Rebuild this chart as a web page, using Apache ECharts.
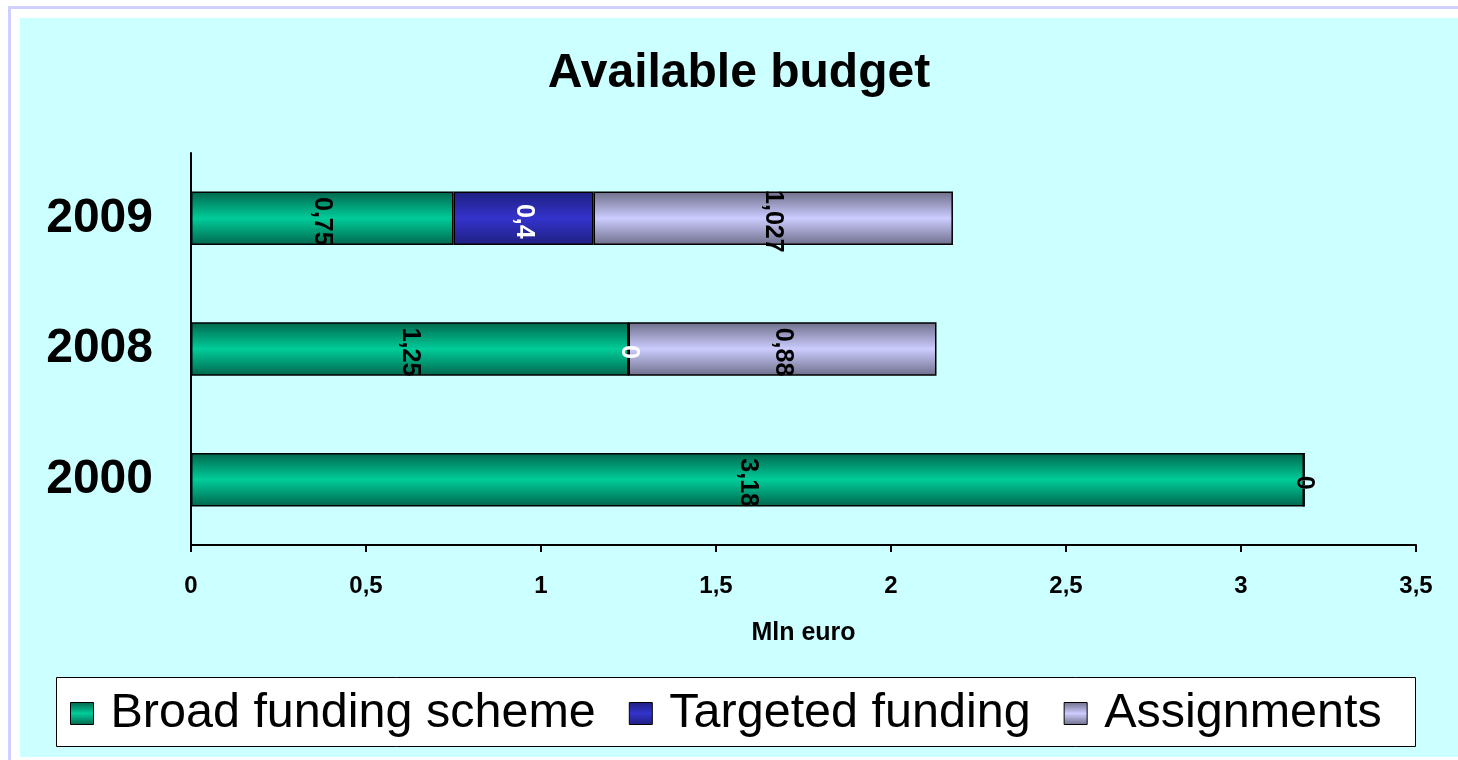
<!DOCTYPE html>
<html><head><meta charset="utf-8">
<script src="https://cdn.jsdelivr.net/npm/echarts@6/dist/echarts.min.js"></script>
<style>html,body{margin:0;padding:0;background:#fff}#c{width:1458px;height:760px}</style>
</head><body><div id="c"></div>
<script>
const years = ['2000', '2008', '2009'];
const seriesNames = ['Broad funding scheme', 'Targeted funding', 'Assignments'];
const broadFunding = [3.18, 1.25, 0.75];
const targetedFunding = [0, 0, 0.4];
const assignments = [0, 0.88, 1.027];
const xTicks = ['0', '0,5', '1', '1,5', '2', '2,5', '3', '3,5'];

const FONT = "'Liberation Sans', Arial, sans-serif";
function grad(dark, light) {
  return new echarts.graphic.LinearGradient(0, 0, 0, 1, [
    {offset: 0, color: dark}, {offset: 0.5, color: light}, {offset: 1, color: dark}
  ]);
}
const fills = [grad('#00664d', '#00cc99'), grad('#1f1f80', '#3333cc'), grad('#6e6e8a', '#ccccff')];
const labelColors = ['#000', '#fff', '#000'];
const datas = [broadFunding, targetedFunding, assignments];
const fmt = v => String(v).replace('.', ',');

const chart = echarts.init(document.getElementById('c'));
chart.setOption({
  animation: false,
  textStyle: {fontFamily: FONT},
  graphic: [
    {type: 'rect', z: -10, shape: {x: 9.5, y: 7.5, width: 1500, height: 800}, style: {fill: '#fff', stroke: '#d0d0ff', lineWidth: 3}},
    {type: 'rect', z: -9, shape: {x: 20, y: 18, width: 1460, height: 739}, style: {fill: '#ccffff'}},
    {type: 'rect', z: -8, shape: {x: 56.5, y: 677.5, width: 1359, height: 69}, style: {fill: '#fff', stroke: '#000', lineWidth: 1}},
    {type: 'text', x: 739, y: 74, style: {text: 'Available budget', font: "bold 48px " + FONT, fill: '#000', textAlign: 'center', textVerticalAlign: 'middle'}}
  ],
  legend: {
    data: seriesNames,
    left: 65, top: 684,
    itemWidth: 23, itemHeight: 22, itemGap: 33,
    icon: 'rect',
    textStyle: {fontSize: 48.5, color: '#000', fontFamily: FONT, padding: [0, 0, 0, 12]},
    itemStyle: {borderColor: '#000', borderWidth: 1}
  },
  grid: {left: 191, right: 42, top: 153, bottom: 215},
  xAxis: {
    type: 'value', min: 0, max: 3.5, interval: 0.5,
    name: 'Mln euro', nameLocation: 'middle', nameGap: 76,
    nameTextStyle: {fontSize: 25, fontWeight: 'bold', color: '#000', fontFamily: FONT, verticalAlign: 'top'},
    axisLine: {show: true, lineStyle: {color: '#000', width: 2}},
    axisTick: {show: true, length: 7, lineStyle: {color: '#000', width: 2}},
    splitLine: {show: false},
    axisLabel: {fontSize: 24, fontWeight: 'bold', color: '#000', margin: 29,
      formatter: (v) => xTicks[Math.round(v / 0.5)]}
  },
  yAxis: {
    type: 'category', data: years,
    axisLine: {show: true, lineStyle: {color: '#000', width: 2}},
    axisTick: {show: false},
    axisLabel: {fontSize: 48, fontWeight: 'bold', color: '#000', margin: 38}
  },
  series: seriesNames.map((n, i) => ({
    name: n, type: 'bar', stack: 'total', barCategoryGap: '59%',
    data: datas[i],
    itemStyle: {color: fills[i], borderColor: '#000', borderWidth: 1.5},
    label: {show: true, position: 'inside', rotate: -90, fontSize: 25, fontWeight: 'bold',
      color: labelColors[i], fontFamily: FONT, offset: [3, 0], formatter: p => fmt(p.value)}
  }))
});
</script></body></html>
